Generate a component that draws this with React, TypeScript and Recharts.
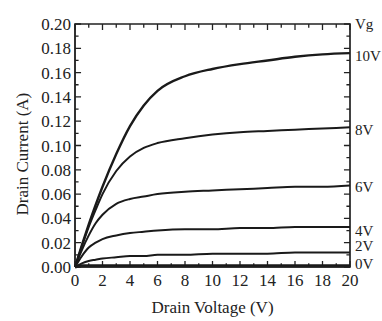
import { LineChart, Line, XAxis, YAxis } from "recharts"

const drainVoltage = [0, 0.5, 1, 1.5, 2, 3, 4, 5, 6, 8, 10, 12, 14, 16, 18, 20]
const vg10 = [0, 0.018, 0.035, 0.051, 0.066, 0.093, 0.116, 0.133, 0.145, 0.157, 0.163, 0.167, 0.17, 0.173, 0.175, 0.176]
const vg8 = [0, 0.017, 0.033, 0.047, 0.06, 0.079, 0.091, 0.098, 0.102, 0.106, 0.109, 0.111, 0.112, 0.113, 0.114, 0.115]
const vg6 = [0, 0.014, 0.026, 0.036, 0.043, 0.052, 0.056, 0.058, 0.06, 0.062, 0.063, 0.064, 0.065, 0.066, 0.066, 0.067]
const vg4 = [0, 0.009, 0.016, 0.02, 0.023, 0.026, 0.028, 0.029, 0.03, 0.031, 0.031, 0.032, 0.032, 0.033, 0.033, 0.033]
const vg2 = [0, 0.003, 0.005, 0.006, 0.007, 0.008, 0.009, 0.009, 0.01, 0.01, 0.011, 0.011, 0.011, 0.012, 0.012, 0.012]
const vg0 = [0, 0.001, 0.001, 0.001, 0.001, 0.001, 0.001, 0.001, 0.001, 0.001, 0.001, 0.001, 0.001, 0.001, 0.001, 0.001]

const xDomain = [0, 20]
const yDomain = [0, 0.2]
const xTicks = Array.from({ length: 21 }, (_, i) => i)
const yTicks = Array.from({ length: 21 }, (_, i) => +(i * 0.01).toFixed(2))
const gateLabels = ["Vg", "10V", "8V", "6V", "4V", "2V", "0V"]
const gateLabelAt = [0.2, 0.174, 0.113, 0.066, 0.03, 0.017, 0.0025]

const data = drainVoltage.map((v, i) => ({
  vd: v,
  g10: vg10[i],
  g8: vg8[i],
  g6: vg6[i],
  g4: vg4[i],
  g2: vg2[i],
  g0: vg0[i],
}))

const FONT = "'Liberation Serif', 'Times New Roman', serif"
const INK = "#222"
// inward tick lengths in axis units (~6px major, ~3.5px minor)
const X_MAJOR = 0.44
const X_MINOR = 0.26
const Y_MAJOR = 0.005
const Y_MINOR = 0.003

// box around the plot, as one polyline
const [x0, x1] = xDomain
const [y0, y1] = yDomain
const frameData = [
  { vd: x0, f: y0 },
  { vd: x1, f: y0 },
  { vd: x1, f: y1 },
  { vd: x0, f: y1 },
  { vd: x0, f: y0 },
]

// tick marks as short segments split by nulls
const tickData: { vd: number; f: number | null }[] = []
xTicks.forEach((t) => {
  const len = t % 2 === 0 ? Y_MAJOR : Y_MINOR
  tickData.push({ vd: t, f: y0 }, { vd: t, f: y0 + len }, { vd: t, f: null })
  tickData.push({ vd: t, f: y1 }, { vd: t, f: y1 - len }, { vd: t, f: null })
})
yTicks.forEach((t, i) => {
  const len = i % 2 === 0 ? X_MAJOR : X_MINOR
  tickData.push({ vd: x0, f: t }, { vd: x0 + len, f: t }, { vd: x0 + len, f: null })
  tickData.push({ vd: x1 - len, f: t }, { vd: x1, f: t }, { vd: x1, f: null })
})

function BottomTick(props: any) {
  const { x, y, payload } = props
  if (payload.value % 2 !== 0) return <g />
  return (
    <text x={x} y={y + 11} textAnchor="middle" fontFamily={FONT} fontSize={17} fill={INK}>
      {payload.value}
    </text>
  )
}

function LeftTick(props: any) {
  const { x, y, payload } = props
  if (Math.round(payload.value * 100) % 2 !== 0) return <g />
  return (
    <text x={x + 4} y={y + 6} textAnchor="end" fontFamily={FONT} fontSize={17} fill={INK}>
      {payload.value.toFixed(2)}
    </text>
  )
}

function GateTick(props: any) {
  const { x, y, index } = props
  return (
    <text x={x - 3} y={y + 5} textAnchor="start" fontFamily={FONT} fontSize={15} fill={INK}>
      {gateLabels[index]}
    </text>
  )
}

export default function App() {
  const line = (key: string, w = 2) => (
    <Line
      key={key}
      type="monotone"
      dataKey={key}
      stroke="#1a1a1a"
      strokeWidth={w}
      dot={false}
      isAnimationActive={false}
    />
  )
  return (
    <div style={{ position: "absolute", left: 0, top: 0, background: "#fff" }}>
      <LineChart width={382} height={321} data={data} margin={{ top: 24, right: 0, left: 0, bottom: 0 }}>
        <XAxis
          dataKey="vd"
          type="number"
          domain={xDomain}
          ticks={xTicks}
          interval={0}
          height={54}
          tickLine={false}
          stroke={INK}
          tick={<BottomTick />}
          label={{ value: "Drain Voltage (V)", position: "insideBottom", offset: 8, fontFamily: FONT, fontSize: 17, fill: INK }}
        />
        <YAxis
          type="number"
          domain={yDomain}
          ticks={yTicks}
          interval={0}
          width={75}
          tickLine={false}
          stroke={INK}
          tick={<LeftTick />}
          label={{ value: "Drain Current (A)", angle: -90, position: "insideLeft", offset: 22, dy: 70, fontFamily: FONT, fontSize: 17, fill: INK }}
        />
        <YAxis
          yAxisId="gate"
          orientation="right"
          type="number"
          domain={yDomain}
          ticks={gateLabelAt}
          interval={0}
          width={32}
          axisLine={false}
          tickLine={false}
          tick={<GateTick />}
        />
        <Line data={frameData} type="linear" dataKey="f" stroke={INK} strokeWidth={1.7} dot={false} legendType="none" isAnimationActive={false} />
        <Line data={tickData} type="linear" dataKey="f" stroke={INK} strokeWidth={1.3} dot={false} connectNulls={false} legendType="none" isAnimationActive={false} />
        {line("g10", 2.4)}
        {line("g8")}
        {line("g6")}
        {line("g4")}
        {line("g2")}
        {line("g0", 3)}
        <Line yAxisId="gate" dataKey="g10" stroke="none" dot={false} legendType="none" isAnimationActive={false} />
      </LineChart>
    </div>
  )
}
